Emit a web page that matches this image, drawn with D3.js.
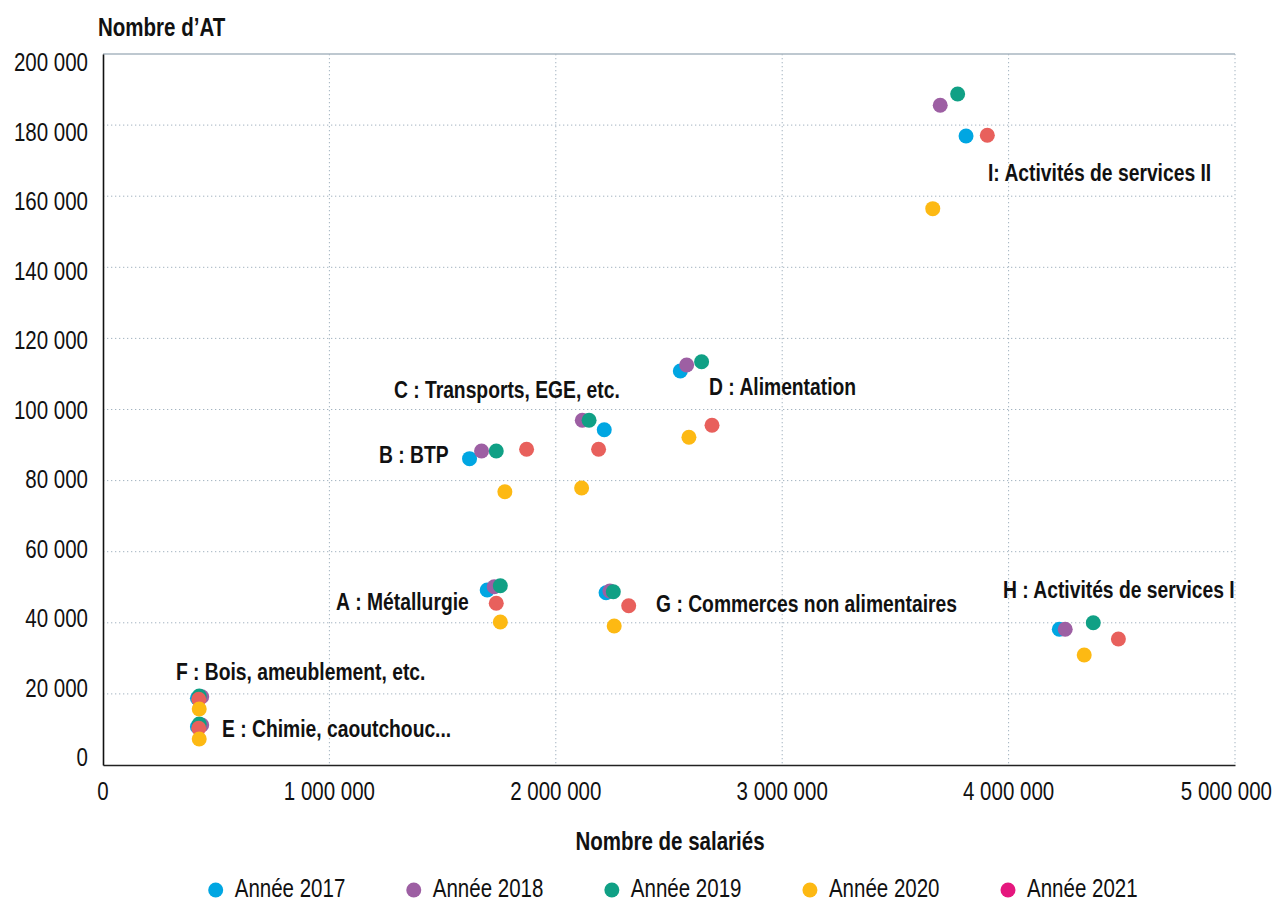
<!DOCTYPE html>
<html lang="fr">
<head>
<meta charset="utf-8">
<script src="https://cdn.jsdelivr.net/npm/d3@7"></script>
<style>
  body { margin: 0; background: #fff; }
  svg text { font-family: "Liberation Sans", Arial, sans-serif; fill: #111; }
</style>
</head>
<body>
<div id="chart"></div>
<script>
// secteurs A..I
const sectors = ["A", "B", "C", "D", "E", "F", "G", "H", "I"];
const sectorLabels = [
  "A\u00A0: Métallurgie",
  "B\u00A0: BTP",
  "C\u00A0: Transports, EGE, etc.",
  "D\u00A0: Alimentation",
  "E\u00A0: Chimie, caoutchouc...",
  "F\u00A0: Bois, ameublement, etc.",
  "G\u00A0: Commerces non alimentaires",
  "H\u00A0: Activités de services I",
  "I: Activités de services II"
];
// where each label sits, in data units (salariés, AT)
const labelX = [1029000, 1219000, 1285000, 2677000, 526000, 322000, 2443000, 3975000, 3909000];
const labelY = [43600, 84950, 103240, 104080, 7880, 23910, 43040, 46980, 164280];

const years = ["Année 2017", "Année 2018", "Année 2019", "Année 2020", "Année 2021"];

// nombre de salariés par secteur
const salaries2017 = [1697000, 1619000, 2214000, 2550000, 417000, 417000, 2222000, 4224000, 3812000];
const salaries2018 = [1728000, 1672000, 2117000, 2578000, 436000, 436000, 2239000, 4250000, 3698000];
const salaries2019 = [1755000, 1737000, 2147000, 2644000, 425000, 425000, 2254000, 4374000, 3775000];
const salaries2020 = [1755000, 1775000, 2114000, 2588000, 425000, 425000, 2258000, 4334000, 3665000];
const salaries2021 = [1737000, 1871000, 2189000, 2690000, 423000, 423000, 2322000, 4485000, 3906000];

// nombre d'AT par secteur
const at2017 = [49230, 86170, 94320, 110830, 10770, 18760, 48470, 38170, 176940];
const at2018 = [50160, 88330, 96960, 112520, 11250, 19210, 48950, 38170, 185570];
const at2019 = [50440, 88330, 96960, 113450, 11530, 19410, 48750, 40030, 188750];
const at2020 = [40230, 76880, 77920, 92180, 7310, 15750, 39100, 30940, 156490];
const at2021 = [45480, 88800, 88800, 95560, 10320, 18480, 44810, 35440, 177130];

const xTicks = [0, 1000000, 2000000, 3000000, 4000000, 5000000];
const yTicks = [0, 20000, 40000, 60000, 80000, 100000, 120000, 140000, 160000, 180000, 200000];

const pointColors = ["#00a6e2", "#9d5fa3", "#10a085", "#fdb913", "#e8605c"];
const legendColors = ["#00a6e2", "#9d5fa3", "#10a085", "#fdb913", "#e5177e"];

const width = 1274, height = 900;
const margin = {top: 54, right: 39, bottom: 135, left: 103};
const plotW = width - margin.left - margin.right;
const plotH = height - margin.top - margin.bottom;

// the original type is a condensed sans: squeeze Liberation Sans horizontally
function narrow(sel) {
  sel.each(function() {
    const w = this.getComputedTextLength();
    d3.select(this)
      .attr("textLength", (w * 0.82).toFixed(1))
      .attr("lengthAdjust", "spacingAndGlyphs");
  });
}

const fmt = v => d3.format(",")(v).replace(/,/g, " ");

const svg = d3.select("#chart").append("svg")
  .attr("width", width)
  .attr("height", height);

const g = svg.append("g")
  .attr("transform", "translate(" + margin.left + "," + margin.top + ")");

const xScale = d3.scaleLinear().domain([0, 5000000]).range([0, plotW]);
const yScale = d3.scaleLinear().domain([0, 200000]).range([plotH, 0]);
// the y tick texts drift slightly from their gridlines in the original
const yLabelScale = d3.scaleLinear().domain([0, 200000]).range([plotH - 8, 8]);

// gridlines
g.append("g")
  .selectAll("line")
  .data(yTicks.filter(d => d > 0 && d < 200000))
  .join("line")
  .attr("x1", 0).attr("x2", plotW)
  .attr("y1", d => yScale(d)).attr("y2", d => yScale(d))
  .attr("stroke", "#a3b3c0")
  .attr("stroke-width", 1)
  .attr("stroke-dasharray", "1.3,2.7");

g.append("g")
  .selectAll("line")
  .data(xTicks.filter(d => d > 0))
  .join("line")
  .attr("x1", d => xScale(d)).attr("x2", d => xScale(d))
  .attr("y1", 0).attr("y2", plotH)
  .attr("stroke", "#a3b3c0")
  .attr("stroke-width", 1)
  .attr("stroke-dasharray", "1.3,2.7");

// top border
g.append("line")
  .attr("x1", 0).attr("x2", plotW)
  .attr("y1", yScale(200000)).attr("y2", yScale(200000))
  .attr("stroke", "#a9b6c1")
  .attr("stroke-width", 1.5);

// axes
g.append("g")
  .attr("transform", "translate(0," + plotH + ")")
  .call(d3.axisBottom(xScale).tickValues(xTicks).tickSize(0).tickFormat(""))
  .call(a => a.select(".domain").attr("stroke", "#222").attr("stroke-width", 1.6));

g.append("g")
  .call(d3.axisLeft(yScale).tickValues(yTicks).tickSize(0).tickFormat(""))
  .call(a => a.select(".domain").attr("stroke", "#111").attr("stroke-width", 1.6));

// tick labels
g.append("g")
  .selectAll("text")
  .data(xTicks)
  .join("text")
  .attr("x", (d, i) => i === xTicks.length - 1 ? xScale(d) + 37 : xScale(d))
  .attr("y", plotH + 35)
  .attr("text-anchor", (d, i) => i === xTicks.length - 1 ? "end" : "middle")
  .style("font-size", "25px")
  .text(fmt)
  .call(narrow);

g.append("g")
  .selectAll("text")
  .data(yTicks)
  .join("text")
  .attr("x", -15)
  .attr("y", d => yLabelScale(d))
  .attr("dy", "0.36em")
  .attr("text-anchor", "end")
  .style("font-size", "25px")
  .text(fmt)
  .call(narrow);

// axis titles
svg.append("text")
  .attr("x", 98)
  .attr("y", 36)
  .style("font-size", "25px")
  .style("font-weight", "bold")
  .text("Nombre d’AT")
  .call(narrow);

svg.append("text")
  .attr("x", 670)
  .attr("y", 850)
  .attr("text-anchor", "middle")
  .style("font-size", "25px")
  .style("font-weight", "bold")
  .text("Nombre de salariés")
  .call(narrow);

// points, 2020 drawn last
const seriesX = [salaries2017, salaries2018, salaries2019, salaries2020, salaries2021];
const seriesY = [at2017, at2018, at2019, at2020, at2021];
const drawOrder = [0, 1, 2, 4, 3];

drawOrder.forEach(k => {
  g.append("g")
    .selectAll("circle")
    .data(sectors.map((s, i) => ({x: seriesX[k][i], y: seriesY[k][i]})))
    .join("circle")
    .attr("cx", d => xScale(d.x))
    .attr("cy", d => yScale(d.y))
    .attr("r", 7.5)
    .attr("fill", pointColors[k]);
});

// sector labels
g.append("g")
  .selectAll("text")
  .data(sectorLabels)
  .join("text")
  .attr("x", (d, i) => xScale(labelX[i]))
  .attr("y", (d, i) => yScale(labelY[i]))
  .style("font-size", "23.5px")
  .style("font-weight", "bold")
  .text(d => d)
  .call(narrow);

// legend
const legendX = d3.scaleLinear().domain([0, 4]).range([215.7, 1008]);
const legend = svg.append("g")
  .selectAll("g")
  .data(years)
  .join("g")
  .attr("transform", (d, i) => "translate(" + legendX(i) + ",890)");

legend.append("circle")
  .attr("r", 7.5)
  .attr("fill", (d, i) => legendColors[i]);

legend.append("text")
  .attr("x", 19)
  .attr("y", 7)
  .style("font-size", "25px")
  .text(d => d)
  .call(narrow);
</script>
</body>
</html>
